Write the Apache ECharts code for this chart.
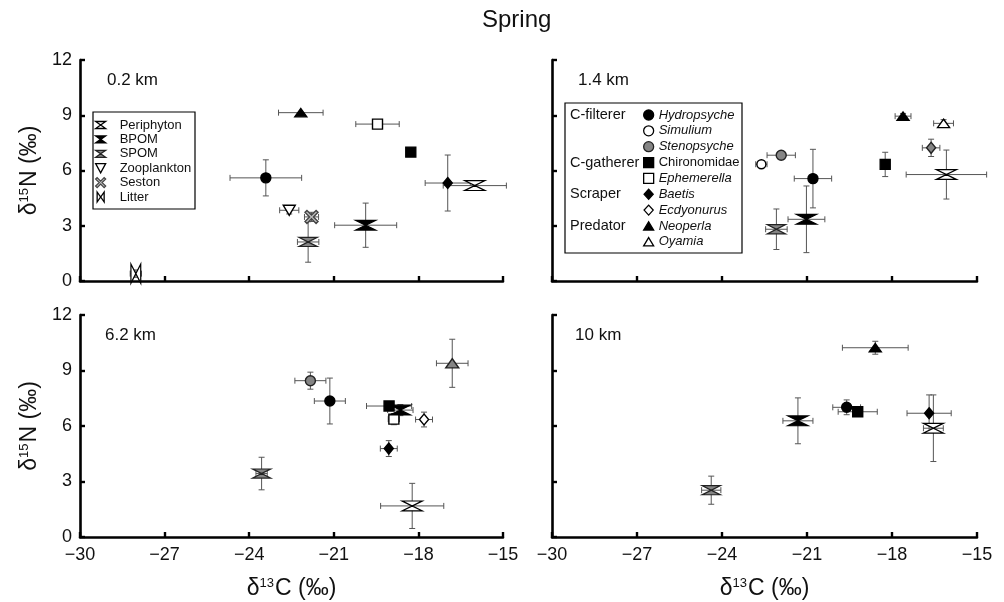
<!DOCTYPE html>
<html>
<head>
<meta charset="utf-8">
<script src="https://cdn.jsdelivr.net/npm/echarts@6/dist/echarts.min.js"></script>
<style>
  html, body { margin: 0; padding: 0; background: #fff; }
  #chart { width: 1004px; height: 602px; }
</style>
</head>
<body>
<div id="chart"></div>
<script>
// Axis ticks (per mil)
const xTicks = [-30, -27, -24, -21, -18, -15];
const yTicks = [0, 3, 6, 9, 12];

// Sampling sites, one panel each
const sites = ['0.2 km', '1.4 km', '6.2 km', '10 km'];

// Rows: [taxon, mean δ13C, mean δ15N, SD δ13C, SD δ15N]
const site02 = [
  ['Litter', -28.02, 0.40, 0.20, 0.20],
  ['SPOM', -21.91, 2.12, 0.38, 1.10],
  ['BPOM', -19.87, 3.03, 1.10, 1.20],
  ['Zooplankton', -22.58, 3.84, 0.34, 0.20],
  ['Seston', -21.79, 3.48, 0.25, 0.25],
  ['Periphyton', -16.00, 5.18, 1.12, 0],
  ['Hydropsyche', -23.41, 5.60, 1.27, 0.98],
  ['Baetis', -16.96, 5.32, 0.80, 1.52],
  ['Chironomidae', -18.27, 7.00, 0, 0],
  ['Ephemerella', -19.45, 8.52, 0.77, 0],
  ['Neoperla', -22.17, 9.14, 0.79, 0]
];
const site14 = [
  ['SPOM', -22.08, 2.81, 0.38, 1.10],
  ['BPOM', -21.02, 3.35, 0.65, 1.81],
  ['Periphyton', -16.08, 5.78, 1.42, 1.33],
  ['Hydropsyche', -20.79, 5.56, 0.66, 1.59],
  ['Simulium', -22.61, 6.34, 0.20, 0],
  ['Stenopsyche', -21.91, 6.83, 0.50, 0],
  ['Chironomidae', -18.24, 6.33, 0, 0.66],
  ['Other scraper', -16.62, 7.23, 0.31, 0.47],
  ['Oyamia', -16.18, 8.56, 0.35, 0.20],
  ['Neoperla', -17.61, 8.95, 0.28, 0.15]
];
const site62 = [
  ['SPOM', -23.56, 3.43, 0.20, 0.88],
  ['Periphyton', -18.22, 1.68, 1.12, 1.22],
  ['Baetis', -19.05, 4.78, 0.30, 0.43],
  ['Ecdyonurus', -17.80, 6.35, 0.30, 0.40],
  ['Ephemerella', -18.87, 6.37, 0.20, 0.30],
  ['Chironomidae', -19.04, 7.08, 0.80, 0],
  ['BPOM', -18.64, 6.86, 0.45, 0.30],
  ['Hydropsyche', -21.14, 7.35, 0.55, 1.24],
  ['Stenopsyche', -21.83, 8.45, 0.55, 0.46],
  ['Other predator', -16.80, 9.39, 0.56, 1.30]
];
const site10 = [
  ['SPOM', -24.38, 2.53, 0.34, 0.76],
  ['BPOM', -21.32, 6.28, 0.53, 1.24],
  ['Periphyton', -16.54, 5.88, 0.35, 1.80],
  ['Baetis', -16.69, 6.69, 0.78, 0.99],
  ['Hydropsyche', -19.60, 7.01, 0.49, 0.40],
  ['Chironomidae', -19.21, 6.77, 0.69, 0],
  ['Neoperla', -18.59, 10.23, 1.16, 0.35]
];

// Legend entries
const sourceNames = ['Periphyton', 'BPOM', 'SPOM', 'Zooplankton', 'Seston', 'Litter'];
const consumerNames = ['Hydropsyche', 'Simulium', 'Stenopsyche', 'Chironomidae', 'Ephemerella',
  'Baetis', 'Ecdyonurus', 'Neoperla', 'Oyamia'];
const guildNames = [['C-filterer', 0], ['C-gatherer', 3], ['Scraper', 5], ['Predator', 7]];

const panelData = [site02, site14, site62, site10];

// ---- marker shapes ----
const HOURGLASS = 'path://M0,0 L20,0 L10,7 L20,14 L0,14 L10,7 Z';
const BOWTIE = 'path://M0,0 L7,10 L14,0 L14,20 L7,10 L0,20 Z';
const CROSS = 'path://M3,0 L10,7 L17,0 L20,3 L13,10 L20,17 L17,20 L10,13 L3,20 L0,17 L7,10 L0,3 Z';
const DOWN_TRI = 'path://M0,0 L12,0 L6,11 Z';
const UP_TRI = 'path://M6,0 L12,10 L0,10 Z';
const DIAMOND = 'path://M5,0 L10,5.5 L5,11 L0,5.5 Z';

const GRAY = '#858585';
const markerStyle = {
  'Periphyton':     { symbol: HOURGLASS, size: [20, 14], fill: '#fff', stroke: '#000' },
  'BPOM':           { symbol: HOURGLASS, size: [20, 14], fill: '#000', stroke: '#000' },
  'SPOM':           { symbol: HOURGLASS, size: [18, 13], fill: GRAY, stroke: '#222' },
  'Zooplankton':    { symbol: DOWN_TRI, size: [12, 11], fill: '#fff', stroke: '#000' },
  'Seston':         { symbol: CROSS, size: [13, 13], fill: '#bdbdbd', stroke: '#444' },
  'Litter':         { symbol: BOWTIE, size: [14, 19], fill: '#fff', stroke: '#000' },
  'Hydropsyche':    { symbol: 'circle', size: 10, fill: '#000', stroke: '#000' },
  'Simulium':       { symbol: 'circle', size: 9, fill: '#fff', stroke: '#000' },
  'Stenopsyche':    { symbol: 'circle', size: 10, fill: GRAY, stroke: '#222' },
  'Chironomidae':   { symbol: 'rect', size: 10, fill: '#000', stroke: '#000' },
  'Ephemerella':    { symbol: 'rect', size: 10, fill: '#fff', stroke: '#000' },
  'Baetis':         { symbol: DIAMOND, size: [10, 11], fill: '#000', stroke: '#000' },
  'Ecdyonurus':     { symbol: DIAMOND, size: [10, 11], fill: '#fff', stroke: '#000' },
  'Other scraper':  { symbol: DIAMOND, size: [10, 11], fill: GRAY, stroke: '#222' },
  'Neoperla':       { symbol: UP_TRI, size: [12, 10], fill: '#000', stroke: '#000' },
  'Oyamia':         { symbol: UP_TRI, size: [12, 10], fill: '#fff', stroke: '#000' },
  'Other predator': { symbol: UP_TRI, size: [13, 11], fill: GRAY, stroke: '#222' }
};

// ---- layout ----
const FONT = '"Liberation Sans", Arial, Helvetica, sans-serif';
const gridBoxes = [
  { left: 80, top: 60, width: 423, height: 221 },
  { left: 552, top: 60, width: 425, height: 221 },
  { left: 80, top: 315, width: 423, height: 222 },
  { left: 552, top: 315, width: 425, height: 222 }
];
const siteLabelPos = [[107, 80], [578, 80], [105, 335], [575, 335]];

const minusFmt = v => (v < 0 ? '\u2212' + Math.abs(v) : String(v));
const axisLine = { lineStyle: { color: '#000', width: 2.6 } };
const axisTick = { inside: true, length: 5, lineStyle: { color: '#000', width: 2.4 } };
const nameRich = {
  d: { fontSize: 23, fontFamily: FONT, color: '#111' },
  s: { fontSize: 13, fontFamily: FONT, color: '#111', padding: [0, 1, 11, 0] }
};

const xAxes = gridBoxes.map((g, i) => ({
  type: 'value', gridIndex: i,
  min: xTicks[0], max: xTicks[xTicks.length - 1], interval: xTicks[1] - xTicks[0],
  axisLine, axisTick, splitLine: { show: false },
  axisLabel: { show: i >= 2, fontSize: 18, fontFamily: FONT, color: '#111', margin: 9, formatter: minusFmt },
  name: i >= 2 ? '{d|δ}{s|13}{d|C (‰)}' : '',
  nameLocation: 'middle', nameGap: 40,
  nameTextStyle: { rich: nameRich }
}));
const yAxes = gridBoxes.map((g, i) => ({
  type: 'value', gridIndex: i,
  min: yTicks[0], max: yTicks[yTicks.length - 1], interval: yTicks[1] - yTicks[0],
  axisLine, axisTick, splitLine: { show: false },
  axisLabel: { show: i % 2 === 0, fontSize: 18, fontFamily: FONT, color: '#111', margin: 8 },
  name: i % 2 === 0 ? '{d|δ}{s|15}{d|N (‰)}' : '',
  nameLocation: 'middle', nameGap: 38, nameRotate: 90,
  nameTextStyle: { rich: nameRich }
}));

// error bars (mean ± SD) drawn under the markers
function renderErrorBars(params, api) {
  const x = api.value(0), y = api.value(1), xe = api.value(2), ye = api.value(3);
  const cap = 3;
  const style = { stroke: '#555', lineWidth: 1 };
  const kids = [];
  if (xe > 0) {
    const l = api.coord([x - xe, y]), r = api.coord([x + xe, y]);
    kids.push({ type: 'line', shape: { x1: l[0], y1: l[1], x2: r[0], y2: r[1] }, style });
    kids.push({ type: 'line', shape: { x1: l[0], y1: l[1] - cap, x2: l[0], y2: l[1] + cap }, style });
    kids.push({ type: 'line', shape: { x1: r[0], y1: r[1] - cap, x2: r[0], y2: r[1] + cap }, style });
  }
  if (ye > 0) {
    const t = api.coord([x, y + ye]), b = api.coord([x, y - ye]);
    kids.push({ type: 'line', shape: { x1: t[0], y1: t[1], x2: b[0], y2: b[1] }, style });
    kids.push({ type: 'line', shape: { x1: t[0] - cap, y1: t[1], x2: t[0] + cap, y2: t[1] }, style });
    kids.push({ type: 'line', shape: { x1: b[0] - cap, y1: b[1], x2: b[0] + cap, y2: b[1] }, style });
  }
  return { type: 'group', children: kids };
}

const series = [];
panelData.forEach((rows, i) => {
  series.push({
    type: 'custom', name: 'sd-' + sites[i], xAxisIndex: i, yAxisIndex: i,
    renderItem: renderErrorBars, clip: false, z: 1, silent: true,
    encode: { x: 0, y: 1 },
    data: rows.map(r => [r[1], r[2], r[3], r[4]])
  });
  rows.forEach(r => {
    const st = markerStyle[r[0]];
    series.push({
      type: 'scatter', name: r[0], xAxisIndex: i, yAxisIndex: i, z: 3,
      symbol: st.symbol, symbolSize: st.size, symbolKeepAspect: true,
      itemStyle: { color: st.fill, borderColor: st.stroke, borderWidth: 1.4, opacity: 1 },
      emphasis: { disabled: true },
      data: [[r[1], r[2]]]
    });
  });
});

const consumerRich = {
  it: { fontStyle: 'italic', fontSize: 13, fontFamily: FONT, color: '#111', lineHeight: 14 },
  up: { fontSize: 13, fontFamily: FONT, color: '#111', lineHeight: 14 }
};

const graphic = [
  { type: 'rect', shape: { x: 93, y: 112, width: 102, height: 97 },
    style: { fill: 'none', stroke: '#000', lineWidth: 1.2 }, z: 10 },
  { type: 'rect', shape: { x: 565, y: 103, width: 177, height: 150 },
    style: { fill: 'none', stroke: '#000', lineWidth: 1.2 }, z: 10 }
];
sites.forEach((s, i) => {
  graphic.push({ type: 'text', x: siteLabelPos[i][0], y: siteLabelPos[i][1], z: 10,
    style: { text: s, fontSize: 17, fontFamily: FONT, fill: '#111', verticalAlign: 'middle' } });
});
guildNames.forEach(([g, row]) => {
  graphic.push({ type: 'text', x: 570, y: 115 + row * 15.85, z: 10,
    style: { text: g, fontSize: 14.5, fontFamily: FONT, fill: '#111', verticalAlign: 'middle' } });
});

const chart = echarts.init(document.getElementById('chart'), null, { renderer: 'canvas' });
chart.setOption({
  backgroundColor: '#fff',
  animation: false,
  title: {
    text: 'Spring', left: 482, top: 8, padding: 0,
    textStyle: { fontSize: 24, fontWeight: 'normal', fontFamily: FONT, color: '#111' }
  },
  grid: gridBoxes.map(g => Object.assign({ containLabel: false }, g)),
  xAxis: xAxes,
  yAxis: yAxes,
  legend: [
    {
      data: sourceNames, orient: 'vertical', left: 95, top: 118, padding: 0,
      itemGap: 0.4, itemWidth: 10, itemHeight: 10, selectedMode: false,
      itemStyle: { borderWidth: 1.3 },
      textStyle: { fontSize: 13, fontFamily: FONT, color: '#111', lineHeight: 14, padding: [0, 0, 0, 9] }
    },
    {
      data: consumerNames, orient: 'vertical', left: 643, top: 108, padding: 0,
      itemGap: 1.85, itemWidth: 10, itemHeight: 10, selectedMode: false,
      itemStyle: { borderWidth: 1.3 },
      formatter: n => (n === 'Chironomidae' ? '{up|' + n + '}' : '{it|' + n + '}'),
      textStyle: { fontSize: 13, fontFamily: FONT, color: '#111', lineHeight: 14, rich: consumerRich }
    }
  ],
  graphic,
  series
});
</script>
</body>
</html>
